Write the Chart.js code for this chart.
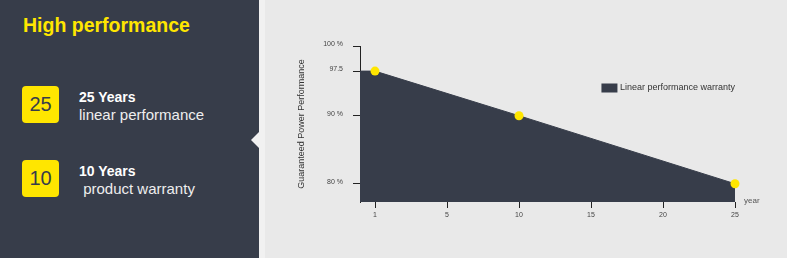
<!DOCTYPE html>
<html>
<head>
<meta charset="utf-8">
<script src="https://cdn.jsdelivr.net/npm/chart.js"></script>
<style>
  html, body { margin: 0; padding: 0; }
  body {
    width: 787px; height: 258px; position: relative; overflow: hidden;
    background: #e9e9e9;
    font-family: 'Liberation Sans', Arial, Helvetica, sans-serif;
  }
  .panel { position: absolute; left: 0; top: 0; width: 259px; height: 258px; background: #373d4a; }
  .strip { position: absolute; left: 259px; top: 0; width: 6px; height: 258px; background: #f1f1f1; }
  .notch {
    position: absolute; left: 251px; top: 132px; width: 0; height: 0;
    border-top: 8px solid transparent; border-bottom: 8px solid transparent;
    border-right: 8px solid #f1f1f1;
  }
  .title { position: absolute; left: 23px; top: 16px; font-size: 19.5px; line-height: 1; font-weight: bold; color: #ffe600; white-space: nowrap; }
  .badge {
    position: absolute; left: 22px; width: 37px; height: 37px; border-radius: 4px;
    background: #ffe600; color: #373d4a; font-size: 20px; line-height: 37px; text-align: center;
  }
  .head { position: absolute; left: 79px; font-size: 14px; line-height: 1; font-weight: bold; color: #fff; white-space: nowrap; }
  .sub { position: absolute; left: 79px; font-size: 15px; line-height: 1; color: #eee; white-space: pre; }
  #chart-wrap { position: absolute; left: 259px; top: 0; width: 528px; height: 258px; }
</style>
</head>
<body>
<div class="panel"></div>
<div class="strip"></div>
<div class="notch"></div>
<div class="title">High performance</div>

<div class="badge" style="top:86px">25</div>
<div class="head" style="top:90px">25 Years</div>
<div class="sub" style="top:107px">linear performance</div>

<div class="badge" style="top:160px">10</div>
<div class="head" style="top:164px">10 Years</div>
<div class="sub" style="top:181px"> product warranty</div>

<div id="chart-wrap"><canvas id="perfChart" width="528" height="258"></canvas></div>

<script>
// data
const years = [0, 1, 10, 25];
const performance = [97.5, 97.5, 90, 80];
const xTicks = [1, 5, 10, 15, 20, 25];
const yTicks = [80, 90, 97.5, 100];
const yTickLabels = ['80 %', '90 %', '97.5', '100 %'];
const seriesLabel = 'Linear performance warranty';

const FONT = "'Liberation Sans', Arial, sans-serif";
const DARK = '#373d4a';
const YELLOW = '#ffe600';

// the axes in the picture are not evenly scaled, so a linear scale
// with piecewise stops (value -> fraction of the axis) is used
class StopScale extends Chart.LinearScale {
    static id = 'stops';

    decimalFor(value) {
        const s = this.options.stops;
        if (value <= s[0][0]) return s[0][1];
        for (let i = 1; i < s.length; i++) {
            if (value <= s[i][0]) {
                const t = (value - s[i - 1][0]) / (s[i][0] - s[i - 1][0]);
                return s[i - 1][1] + t * (s[i][1] - s[i - 1][1]);
            }
        }
        return s[s.length - 1][1];
    }

    getPixelForValue(value) {
        return this.getPixelForDecimal(this.decimalFor(value));
    }

    getValueForPixel(pixel) {
        const d = this.getDecimalForPixel(pixel);
        const s = this.options.stops;
        for (let i = 1; i < s.length; i++) {
            if (d <= s[i][1]) {
                const t = (d - s[i - 1][1]) / (s[i][1] - s[i - 1][1]);
                return s[i - 1][0] + t * (s[i][0] - s[i - 1][0]);
            }
        }
        return s[s.length - 1][0];
    }
}
Chart.register(StopScale);

// legend box + "year" axis name
const extras = {
    id: 'extras',
    afterDraw(chart) {
        const { ctx, chartArea, scales } = chart;
        const ds = chart.data.datasets[0];
        ctx.save();
        ctx.font = '9px ' + FONT;
        ctx.textBaseline = 'middle';
        const tw = ctx.measureText(ds.label).width;
        const tx = chartArea.right - tw;
        const ty = chartArea.top + 42;
        ctx.fillStyle = ds.backgroundColor;
        ctx.fillRect(tx - 18.5, ty - 4.5, 16, 9);
        ctx.fillStyle = '#333';
        ctx.fillText(ds.label, tx, ty);

        ctx.font = '8px ' + FONT;
        ctx.fillStyle = '#555';
        ctx.fillText('year', scales.x.right + 9, scales.x.top - 1.5);
        ctx.restore();
    }
};

const ctx = document.getElementById('perfChart').getContext('2d');
new Chart(ctx, {
    type: 'line',
    data: {
        datasets: [{
            label: seriesLabel,
            data: years.map((x, i) => ({ x: x, y: performance[i] })),
            fill: 'start',
            backgroundColor: DARK,
            borderColor: DARK,
            borderWidth: 1,
            tension: 0,
            pointRadius: (c) => years[c.dataIndex] === 0 ? 0 : 4.5,
            pointBackgroundColor: YELLOW,
            pointBorderWidth: 0,
            clip: false
        }]
    },
    options: {
        responsive: false,
        animation: false,
        layout: { padding: { left: 37, right: 52, top: 46, bottom: 26 } },
        scales: {
            x: {
                type: 'stops',
                min: 0,
                max: 25,
                stops: [[0, 0], [1, 0.04], [5, 0.232], [10, 0.424], [15, 0.616], [20, 0.808], [25, 1]],
                afterBuildTicks: (s) => { s.ticks = xTicks.map(v => ({ value: v })); },
                afterFit: (s) => { s.height = 30; },
                border: { display: false },
                grid: { drawOnChartArea: false, drawTicks: true, tickLength: 6, color: '#222' },
                ticks: {
                    autoSkip: false,
                    maxRotation: 0,
                    padding: 3,
                    color: '#444',
                    font: { family: FONT, size: 7 },
                    callback: (v) => String(v)
                }
            },
            y: {
                type: 'stops',
                min: 77,
                max: 100,
                stops: [[77, 0], [80, 0.117], [90, 0.553], [97.5, 0.839], [100, 1]],
                afterBuildTicks: (s) => { s.ticks = yTicks.map(v => ({ value: v })); },
                afterFit: (s) => { s.width = 64; },
                border: { display: true, color: '#222', width: 1 },
                grid: { drawOnChartArea: false, drawTicks: true, tickLength: 7, color: '#222' },
                ticks: {
                    padding: 10,
                    labelOffset: -2,
                    color: '#444',
                    font: { family: FONT, size: 7 },
                    callback: (v) => yTickLabels[yTicks.indexOf(v)]
                },
                title: {
                    display: true,
                    text: 'Guaranteed Power Performance',
                    color: '#333',
                    padding: 0,
                    font: { family: FONT, size: 9 }
                }
            }
        },
        plugins: {
            legend: { display: false },
            tooltip: { enabled: false }
        }
    },
    plugins: [extras]
});
</script>
</body>
</html>
